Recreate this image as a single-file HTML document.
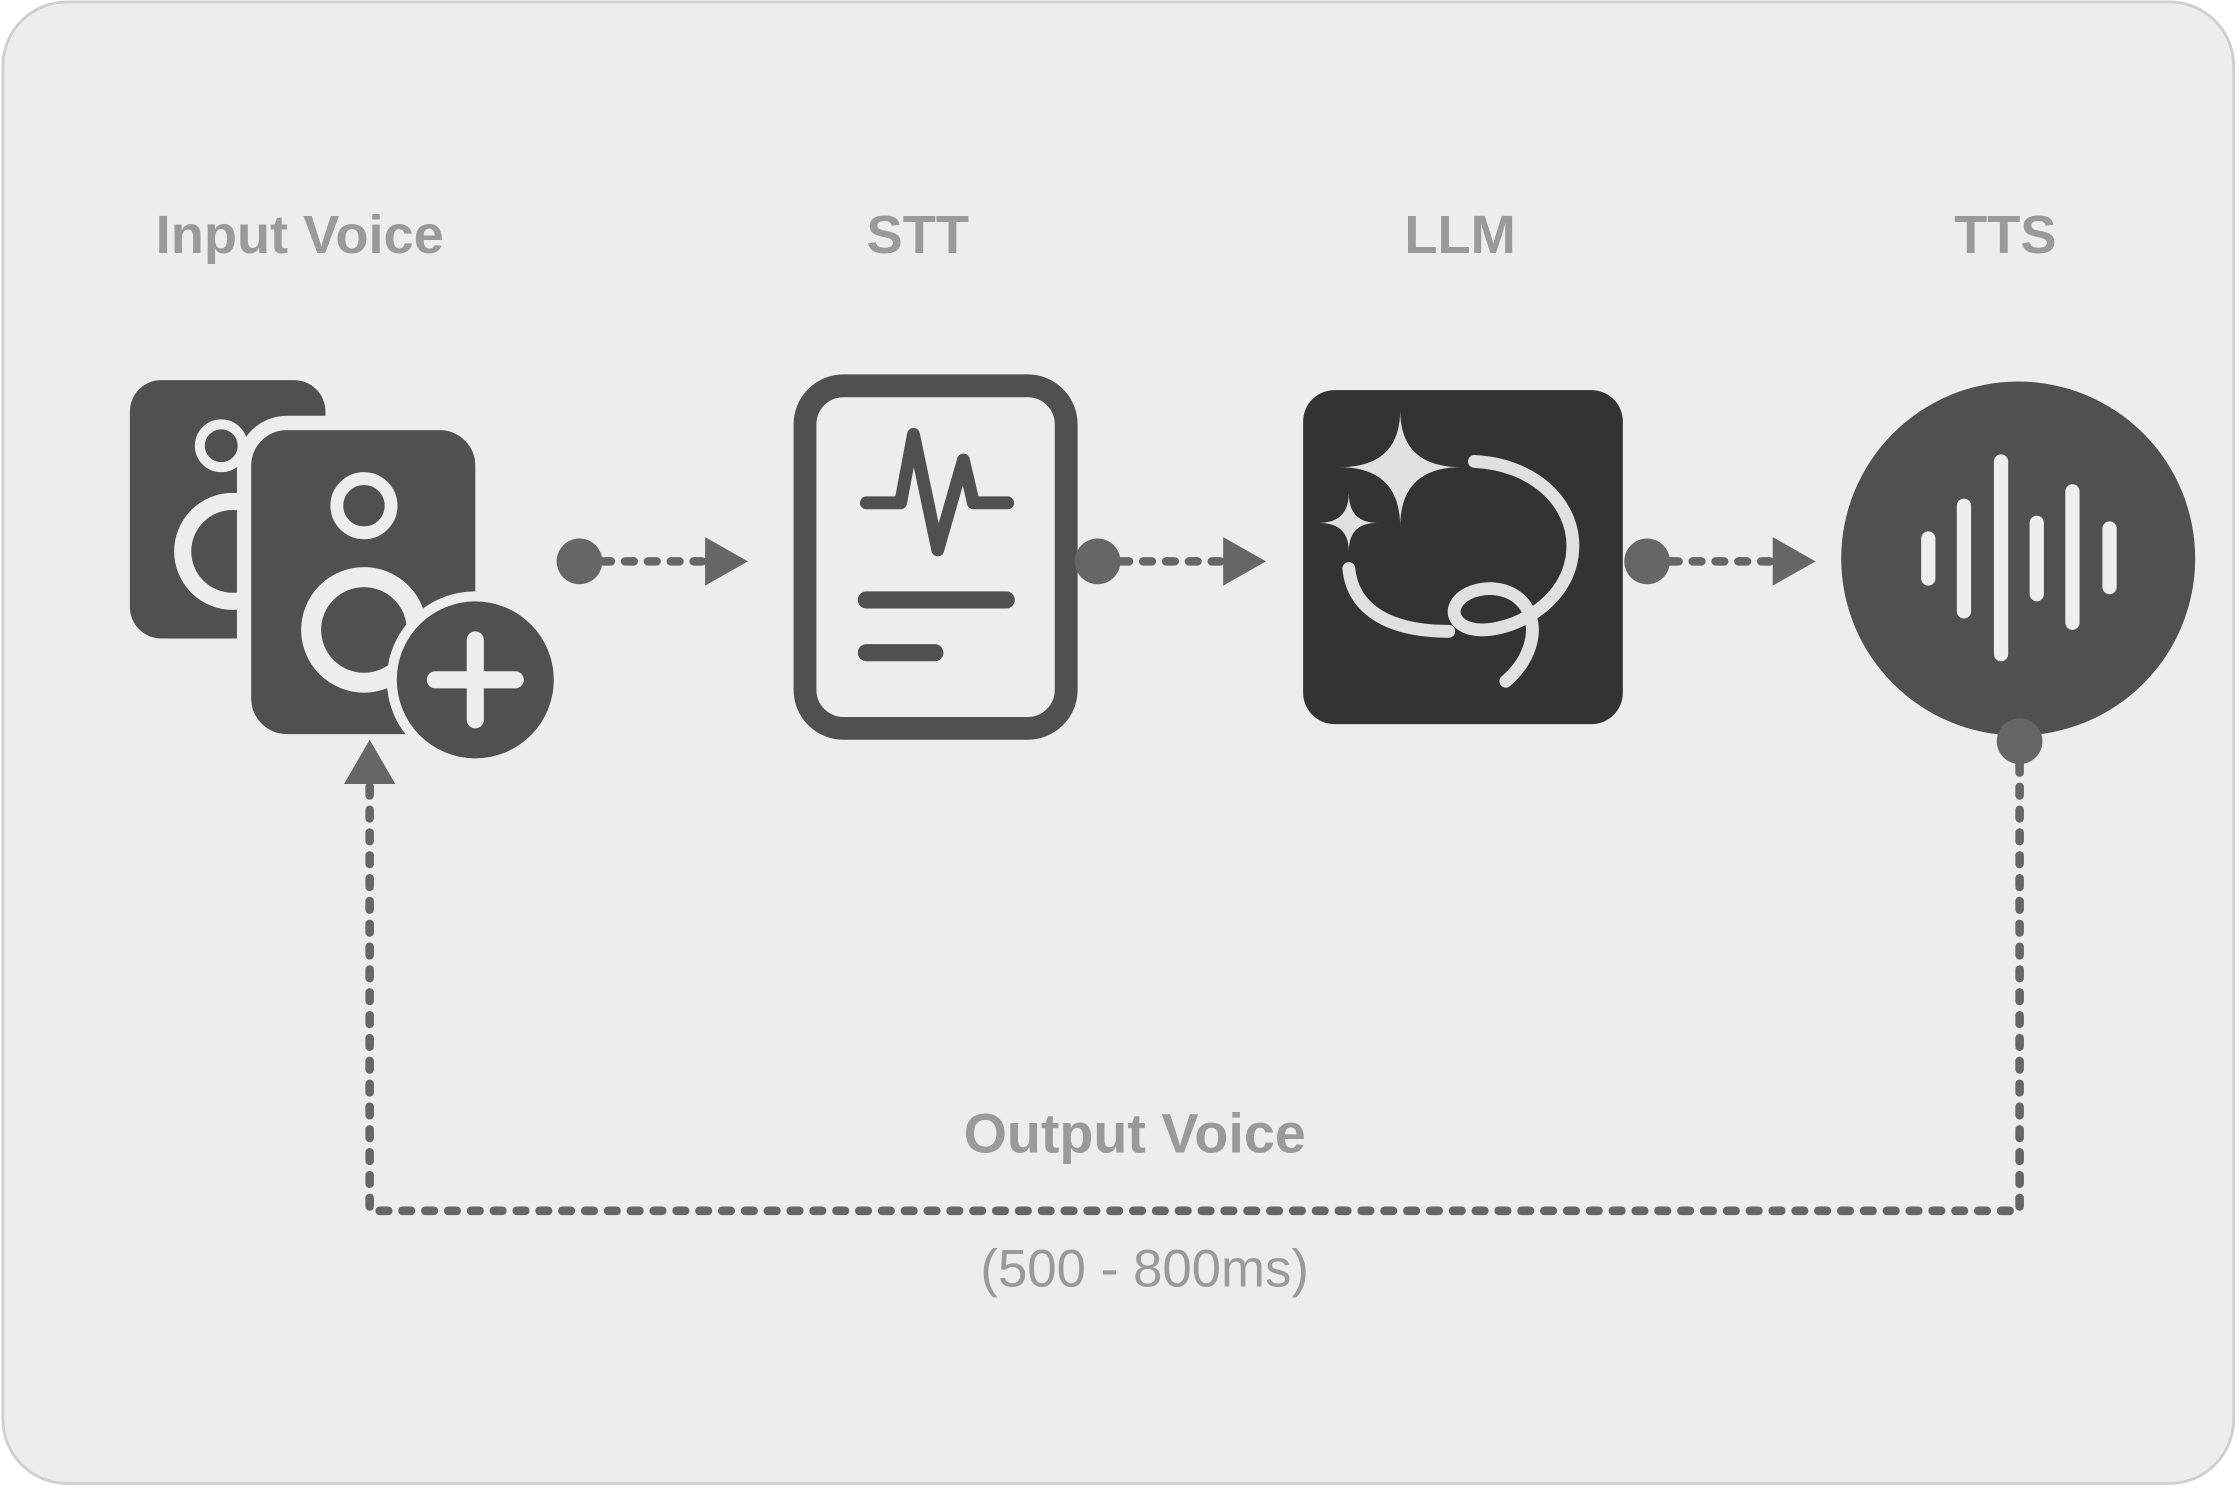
<!DOCTYPE html>
<html><head><meta charset="utf-8"><style>
html,body{margin:0;padding:0;background:#fff;}
svg{display:block;}
text{font-family:"Liberation Sans",sans-serif;}
</style></head><body>
<svg width="2238" height="1491" viewBox="0 0 1568 1044" xmlns="http://www.w3.org/2000/svg">
<rect x="2" y="1" width="1563" height="1038" rx="45" fill="#ededeb" stroke="#cfcfcf" stroke-width="2"/>
<g font-weight="bold" font-size="38" fill="#9a9a9a" text-anchor="middle">
<text x="210" y="177">Input Voice</text>
<text x="643" y="177">STT</text>
<text x="1023" y="177">LLM</text>
<text x="1405" y="177">TTS</text>
<text x="795" y="807" font-size="39">Output  Voice</text>
</g>
<text x="802" y="901" font-size="37" fill="#9a9a9a" text-anchor="middle">(500 - 800ms)</text>

<!-- Input voice icon -->
<rect x="91" y="266" width="137" height="181" rx="22" fill="#505050"/>
<circle cx="155" cy="312" r="15" fill="none" stroke="#ededeb" stroke-width="7"/>
<circle cx="163" cy="386" r="35" fill="none" stroke="#ededeb" stroke-width="12"/>
<rect x="171" y="296" width="167" height="223" rx="30" fill="#505050" stroke="#ededeb" stroke-width="10"/>
<circle cx="255" cy="354" r="19" fill="none" stroke="#ededeb" stroke-width="9"/>
<circle cx="255" cy="441" r="37" fill="none" stroke="#ededeb" stroke-width="14"/>
<circle cx="333" cy="476" r="62" fill="#ededeb"/>
<circle cx="333" cy="476" r="55" fill="#505050"/>
<path d="M333 448V504M305 476H361" stroke="#ededeb" stroke-width="12" stroke-linecap="round"/>

<!-- STT -->
<rect x="564" y="270" width="183" height="240" rx="27" fill="none" stroke="#505050" stroke-width="16"/>
<polyline points="607,352 631,352 640,304 657,385 675,322 682,352 706,352" fill="none" stroke="#505050" stroke-width="9" stroke-linecap="round" stroke-linejoin="round"/>
<path d="M607 420H705M607 457H655" stroke="#505050" stroke-width="12" stroke-linecap="round"/>

<!-- LLM -->
<rect x="913" y="273" width="224" height="234" rx="22" fill="#333333"/>
<g fill="#e0e0e0">
<path d="M981 287Q981 327 1024 327Q981 327 981 369Q981 327 938 327Q981 327 981 287Z"/>
<path d="M945 345Q945 366 965 366Q945 366 945 386Q945 366 924 366Q945 366 945 345Z"/>
</g>
<g fill="none" stroke="#e0e0e0" stroke-width="9" stroke-linecap="round">
<path d="M1033 323C1075 325 1102 352 1102 382C1102 425 1052 446 1030 440C1010 434 1018 412 1045 412C1078 414 1084 452 1055 477"/>
<path d="M945 398C948 428 975 442 1015 442"/>
</g>

<!-- TTS -->
<circle cx="1414" cy="391" r="124" fill="#505050"/>
<g stroke="#eeeeee" stroke-width="10" stroke-linecap="round">
<path d="M1351 377V405M1376 354V428M1402 323V458M1427 366V416M1452 344V436M1478 370V411"/>
</g>

<!-- connectors -->
<g stroke="#666" stroke-width="6" stroke-dasharray="6 10" stroke-linecap="round" fill="none">
<path d="M406 393H494"/>
<path d="M769 393H857"/>
<path d="M1154 393H1242"/>
<path d="M1415 519V848H259V548"/>
</g>
<g fill="#666">
<circle cx="406" cy="393" r="16"/>
<circle cx="769" cy="393" r="16"/>
<circle cx="1154" cy="393" r="16"/>
<circle cx="1415" cy="519" r="16"/>
<polygon points="494,376 524,393 494,410"/>
<polygon points="857,376 887,393 857,410"/>
<polygon points="1242,376 1272,393 1242,410"/>
<polygon points="241,549 259,518 277,549"/>
</g>
</svg>
</body></html>
